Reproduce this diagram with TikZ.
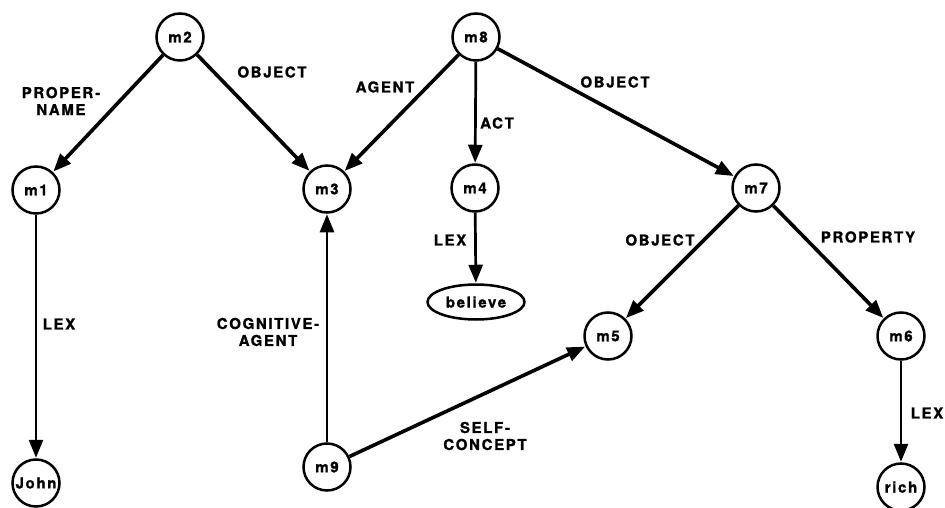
\documentclass[tikz,border=0pt]{standalone}
\usepackage{fontspec}
\setmainfont{TeX Gyre Heros}
\newfontfamily\netfont[LetterSpace=11,BoldFeatures={FakeBold=1.2}]{TeX Gyre Heros}
\usetikzlibrary{arrows.meta,shapes.geometric}
\begin{document}
\begin{tikzpicture}[x=1pt,y=-1pt,
  every node/.style={font=\netfont\bfseries\fontsize{15}{17}\selectfont},
  netnode/.style={circle,draw,line width=2.5pt,minimum size=47pt,inner sep=0pt},
  lexnode/.style={ellipse,draw,line width=2.5pt,minimum width=97pt,minimum height=35pt,inner sep=0pt},
  arc/.style={line width=3.6pt,-{Triangle[length=18pt,width=14pt]},shorten >=0.5pt},
  varc/.style={line width=2.7pt,-{Triangle[length=18pt,width=14pt]},shorten >=0.5pt},
  arclabel/.style={align=center,inner sep=0pt}]
\useasboundingbox (0,0) rectangle (945,508);

% nodes of the network
\node[netnode] (m2) at (180,37) {m2};
\node[netnode] (m8) at (476,37) {m8};
\node[netnode] (m1) at (36,190) {m1};
\node[netnode] (m3) at (327,189) {m3};
\node[netnode] (m4) at (475,188) {m4};
\node[netnode] (m7) at (756,188) {m7};
\node[lexnode] (believe) at (476,302) {believe};
\node[netnode] (m5) at (608,336) {m5};
\node[netnode] (m6) at (901,336) {m6};
\node[netnode] (john) at (36,483) {John};
\node[netnode] (m9) at (327,467) {m9};
\node[netnode] (rich) at (901,487) {rich};

% arcs
\draw[arc] (m2) -- (m1);
\draw[arc] (m2) -- (m3);
\draw[arc] (m8) -- (m3);
\draw[varc] (m8) -- (m4);
\draw[arc] (m8) -- (m7);
\draw[varc] (m4) -- (believe);
\draw[arc] (m7) -- (m5);
\draw[arc] (m7) -- (m6);
\draw[varc] (m1) -- (john);
\draw[varc] (m9) -- (m3);
\draw[arc] (m9) -- (m5);
\draw[varc] (m6) -- (rich);

% arc labels
\node[arclabel] (lpn) at (61,101) {PROPER-\\NAME};
\node[arclabel] (lob1) at (272,72) {OBJECT};
\node[arclabel] (lag) at (385,87) {AGENT};
\node[arclabel] (lact) at (497,123) {ACT};
\node[arclabel] (lob2) at (615,82) {OBJECT};
\node[arclabel] (llex1) at (450,240) {LEX};
\node[arclabel] (lob3) at (660,240) {OBJECT};
\node[arclabel] (lprop) at (868,237) {PROPERTY};
\node[arclabel] (llex2) at (59,324) {LEX};
\node[arclabel] (lcog) at (268,332) {COGNITIVE-\\AGENT};
\node[arclabel] (lself) at (485,436) {SELF-\\CONCEPT};
\node[arclabel] (llex3) at (927,413) {LEX};
\end{tikzpicture}
\end{document}
